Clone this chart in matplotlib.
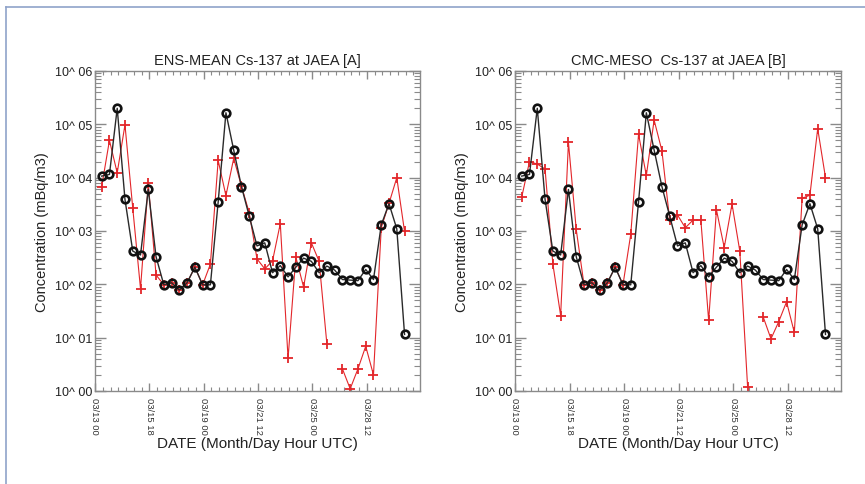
import numpy as np
import matplotlib.pyplot as plt
from matplotlib.lines import Line2D
from matplotlib.ticker import LogLocator, FixedLocator, MultipleLocator, NullFormatter

plt.rcParams['font.family'] = ['Liberation Sans', 'DejaVu Sans']

# Time labels for the major ticks (one tick every 7 samples)
tick_labels = ['03/13 00', '03/15 18', '03/19 00', '03/21 12', '03/25 00', '03/28 12']

# Observed concentration at JAEA (mBq/m3), same in both panels
obs = [1.07e4, 1.15e4, 2.0e5, 3.9e3, 420, 355, 6.0e3, 330, 98, 107,
       78, 107, 210, 98, 98, 3.5e3, 1.65e5, 3.3e4, 6.8e3, 1.9e3,
       525, 600, 165, 225, 138, 210, 310, 270, 165, 220,
       185, 123, 120, 117, 190, 123, 1.3e3, 3.25e3, 1.1e3, 11.5]

# Model: ensemble mean [A]
ens_mean = [6.8e3, 5.0e4, 1.23e4, 9.8e4, 2.7e3, 83, 7.8e3, 150, 98, 107,
            78, 107, 210, 98, 240, 2.1e4, 4.6e3, 2.3e4, 6.9e3, 2.2e3,
            300, 195, 275, 1.38e3, 4.1, 325, 89, 600, 270, 7.6,
            np.nan, 2.6, 1.1, 2.6, 6.9, 2.0, 1.15e3, 3.3e3, 1.0e4, 980]

# Model: CMC-MESO [B]
cmc_meso = [4.3e3, 2.0e4, 1.8e4, 1.45e4, 240, 26, 4.6e4, 1.07e3, 98, 107,
            78, 107, 210, 98, 870, 6.5e4, 1.1e4, 1.2e5, 3.2e4, 1.6e3,
            2.0e3, 1.15e3, 1.6e3, 1.6e3, 21, 2.5e3, 490, 3.2e3, 420, 1.2,
            np.nan, 24.5, 9.5, 20, 47, 12.5, 4.1e3, 4.7e3, 8.3e4, 1.0e4]

titles = ['ENS-MEAN Cs-137 at JAEA [A]', 'CMC-MESO  Cs-137 at JAEA [B]']

x = np.arange(len(obs)) + 0.86
spine_col = '#8a8a8a'

fig = plt.figure(figsize=(8.65, 4.85), dpi=100)

# frame around the figure (only top and left edges visible)
fig.add_artist(Line2D([6/865, 6/865], [0, 1 - 8/485], color='#8fa3c9', lw=1.2))
fig.add_artist(Line2D([6/865, 1], [1 - 8/485, 1 - 8/485], color='#8fa3c9', lw=1.2))

positions = [[95/865, 93/485, 325/865, 320/485],
             [515/865, 93/485, 326/865, 320/485]]

for pos, title, model in zip(positions, titles, [ens_mean, cmc_meso]):
    ax = fig.add_axes(pos)
    ax.plot(x, model, color='#e3262a', lw=0.8, marker='+', ms=6.5, mew=1.3)
    ax.plot(x, obs, color='#2a2a2a', lw=1.0, marker='o', ms=5.5,
            mfc='none', mec='#111111', mew=1.9)
    ax.set_yscale('log')
    ax.set_ylim(1, 1e6)
    ax.set_xlim(0, 41.85)

    ax.xaxis.set_major_locator(FixedLocator(np.arange(0, 36, 7)))
    ax.set_xticklabels(tick_labels, rotation=-90, fontsize=6.8, color='#333333')
    ax.xaxis.set_minor_locator(MultipleLocator(1))

    yt = [10.0**k for k in range(7)]
    ax.set_yticks(yt)
    ax.set_yticklabels(['10^ %02d' % k for k in range(7)], fontsize=9, color='#222222')
    ax.yaxis.set_minor_locator(LogLocator(base=10, subs=np.arange(2, 10)))
    ax.yaxis.set_minor_formatter(NullFormatter())

    ax.tick_params(which='both', direction='in', top=True, right=True, color=spine_col)
    ax.tick_params(axis='x', which='major', length=6, width=1, pad=4)
    ax.tick_params(axis='x', which='minor', length=3, width=0.8)
    ax.tick_params(axis='y', which='major', length=8, width=1, pad=2)
    ax.tick_params(axis='y', which='minor', length=4, width=0.8)
    for s in ax.spines.values():
        s.set_color(spine_col)
        s.set_linewidth(1.0)

    ax.set_title(title, fontsize=10.5, color='#222222', pad=5)
    ax.set_ylabel('Concentration (mBq/m3)', fontsize=10.5, color='#222222', labelpad=4)
    ax.set_xlabel('DATE (Month/Day Hour UTC)', fontsize=11, color='#222222', labelpad=2)

fig.savefig('out.png', dpi=100)
